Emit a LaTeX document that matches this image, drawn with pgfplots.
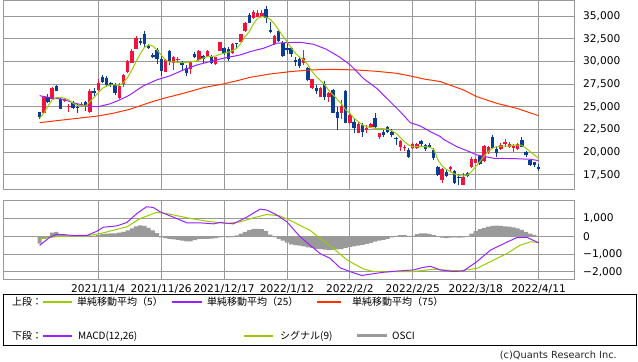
\documentclass[border=0pt]{standalone}
\usepackage{fontspec}
\setmainfont{DejaVu Sans}
\newfontfamily\jp{Noto Sans CJK JP}
\usepackage{pgfplots}
\pgfplotsset{compat=1.18}
\usepackage{pgfplotstable}
\definecolor{upc}{HTML}{F0143C}
\definecolor{dnc}{HTML}{0A3C96}
\definecolor{ma5}{HTML}{99CC00}
\definecolor{ma25}{HTML}{9922FF}
\definecolor{ma75}{HTML}{FF3300}
\definecolor{gridc}{HTML}{999999}
\definecolor{oscic}{HTML}{9A9A9A}

% up (red) candles: index open high low close
\pgfplotstableread{
i o h l c
1 24360 26230 24300 26120
3 25870 27150 25800 27040
6 25650 26010 25570 25870
7 24950 25320 24470 25130
10 25130 25570 25020 25350
12 24440 26930 24360 26790
14 26860 28110 26780 27670
19 25980 27590 25900 27300
20 27520 28580 27230 28470
21 28840 30160 28770 30020
22 29870 31390 29800 31170
23 31410 32840 31340 32580
30 28880 30310 28840 30160
32 29790 30600 29060 30530
33 30160 30450 29980 30310
36 29130 30050 28620 29940
38 30160 31300 30090 31190
40 30530 31300 30460 31120
42 29680 30530 29610 30460
43 31190 32180 31120 32110
46 30900 32000 30830 31920
48 32180 33060 32110 32990
49 33350 34380 33280 34270
51 34750 35670 34680 35480
52 34930 35670 34860 35300
53 34930 35670 34860 35370
56 31920 32900 31850 32800
63 29790 31300 29610 30350
65 27040 28110 26970 28030
67 26120 27190 26050 27120
69 26120 26680 25570 26570
72 24290 25760 23630 25100
74 23190 24360 23110 24110
76 22160 23330 22090 23120
78 22450 23010 22160 22640
79 22820 23260 22640 23120
81 21650 22160 21430 22090
86 20620 21320 20180 21240
87 20440 20770 20180 20620
89 20440 20990 20360 20910
90 20440 20990 20360 20910
96 16950 18240 16580 18120
98 18120 18530 17870 18420
101 16400 17690 16400 17240
103 18420 19450 18240 19230
104 18860 19370 18790 19300
106 19080 20770 18900 20690
107 20070 20700 19800 20620
110 20330 21060 20250 20770
111 20910 21430 20620 21170
112 20620 21170 20440 20910
113 20440 20910 20070 20690
114 20330 20990 20250 20910
}\candup

% down (blue) candles: index open high low close
\pgfplotstableread{
i o h l c
0 24400 24450 23630 23850
2 26120 26420 25390 25570
4 27300 27450 26700 26750
5 25870 26050 24750 24800
8 25460 25650 24800 24910
9 25020 25280 24360 24880
11 25540 25680 24580 25100
13 26790 27040 26200 26490
15 28330 28550 27590 27740
16 28180 28360 27230 27370
17 27590 27780 27150 27370
18 27370 27590 26350 26490
24 32220 32580 31800 32070
25 32990 33320 31630 31920
26 31700 31890 31410 31520
27 30710 30970 30350 30530
28 31260 31520 29720 30240
29 30240 30710 28400 28990
31 31190 31300 29610 29980
34 29870 30090 29000 29570
35 29320 29610 28400 28770
37 30820 31080 30350 30530
39 30600 30710 29870 30240
41 30600 30710 29720 29790
44 31450 31560 30710 30900
45 31340 31560 30090 30240
47 32070 32070 31450 31920
50 35120 35370 34200 34270
54 35740 36140 34270 34750
55 33470 34380 33100 33280
57 33350 33470 32110 32220
58 32070 32290 30530 30640
59 31450 31990 30820 31260
60 31450 31630 30460 30790
61 30160 30460 29500 29980
62 30240 30460 29240 29500
64 29240 29430 27890 27960
66 27040 27410 26380 26750
68 27480 27890 25760 26050
70 26860 26930 24290 24360
71 24470 24950 22470 23740
73 26790 26860 23190 23260
75 23370 23630 22090 22640
77 23010 23190 21720 22270
80 23740 24360 22640 22750
82 22270 22450 21720 21900
83 22820 22890 22090 22270
84 22270 22530 21650 21900
85 21610 21720 20800 21430
88 20250 20440 19340 19520
91 21240 21360 20730 20910
92 20800 20910 20180 20330
93 20800 20990 20540 20620
94 20250 20440 19150 19340
95 18420 18500 17430 17500
97 17870 18050 17240 17390
99 17940 18050 16470 16660
100 17320 17620 16400 17130
102 17760 17830 17240 17390
105 19590 19670 18640 18710
108 21720 21940 20360 20440
109 20330 20620 19520 19960
115 21350 21650 20540 20620
116 20070 20180 19520 19700
117 19150 19230 18530 18600
118 18930 18930 18350 18640
119 18420 18680 17980 18120
}\canddn

% OSCI histogram
\pgfplotstableread{
i v
0 -415
1 -150
2 -80
3 200
4 245
5 100
6 60
7 30
8 20
9 10
10 5
11 10
12 20
13 20
14 60
15 120
16 150
17 170
18 170
19 200
20 250
21 330
22 450
23 560
24 620
25 580
26 470
27 330
28 180
29 -60
30 -100
31 -140
32 -170
33 -200
34 -250
35 -290
36 -280
37 -220
38 -160
39 -150
40 -150
41 -130
42 -100
43 -60
44 0
45 -60
46 -50
47 50
48 150
49 250
50 350
51 420
52 420
53 400
54 300
55 100
56 -50
57 -150
58 -250
59 -350
60 -450
61 -500
62 -520
63 -560
64 -620
65 -650
66 -700
67 -720
68 -750
69 -770
70 -760
71 -740
72 -720
73 -650
74 -600
75 -560
76 -520
77 -480
78 -430
79 -370
80 -300
81 -250
82 -200
83 -140
84 -60
85 20
86 60
87 60
88 0
89 30
90 120
91 160
92 160
93 140
94 70
95 0
96 -80
97 -100
98 -80
99 -60
100 -80
101 -60
102 0
103 150
104 300
105 400
106 480
107 540
108 580
109 600
110 580
111 560
112 540
113 500
114 450
115 360
116 250
117 150
118 80
119 -30
}\osci

\pgfplotsset{
  panel/.style={
    scale only axis, width=571bp,
    xmin=-8.66, xmax=127.52,
    xtick={14,29,44,59,74,89,104,119},
    scaled x ticks=false, scaled y ticks=false,
    grid=major,
    major grid style={draw=gridc, line width=1bp},
    axis line style={draw=gridc, line width=1bp},
    major tick length=0pt,
    yticklabel pos=right,
    yticklabel style={anchor=west, inner sep=0pt, xshift=8.7bp,
      font=\fontsize{10.6bp}{12bp}\selectfont, text=black},
  },
  wick/.style={draw=none, mark=none, forget plot,
    error bars/.cd, y dir=plus, y explicit, error mark=none,
    error bar style={draw=#1, line width=1bp, line cap=butt}},
  body/.style={draw=none, mark=none, forget plot,
    error bars/.cd, y dir=plus, y explicit, error mark=none,
    error bar style={draw=#1, line width=3.4bp, line cap=butt}},
}

\begin{document}
\begin{tikzpicture}
\useasboundingbox (0,0) rectangle (638bp,362bp);

% ---------------- upper panel ----------------
\begin{axis}[panel,
  at={(3.3bp,172bp)}, anchor=south west, height=189bp,
  ymin=15848, ymax=36652,
  ytick={17500,20000,22500,25000,27500,30000,32500,35000},
  yticklabels={{17,500},{20,000},{22,500},{25,000},{27,500},{30,000},{32,500},{35,000}},
  xticklabel=\empty,
]
\addplot[wick=upc] table[x=i, y=l, y error plus expr=\thisrow{h}-\thisrow{l}] {\candup};
\addplot[wick=dnc] table[x=i, y=l, y error plus expr=\thisrow{h}-\thisrow{l}] {\canddn};
\addplot[body=upc] table[x=i, y=o, y error plus expr=\thisrow{c}-\thisrow{o}] {\candup};
\addplot[body=dnc] table[x=i, y=c, y error plus expr=\thisrow{o}-\thisrow{c}] {\canddn};

% MA75
\addplot[draw=ma75, line width=1bp, mark=none] coordinates {
(0,23260) (5.6,23560) (14,24000) (17.5,24290) (21.5,24730) (26.4,25500)
(29.6,25940) (34.3,26490) (39.1,27120) (43.8,27520) (47.8,27960) (50.2,28250)
(55,28620) (59.8,28880) (64.6,29060) (69.4,29130) (75.6,29060) (80.4,28910)
(85.2,28690) (88.4,28400) (91.6,28070) (95.6,27780) (97.1,27520) (101.1,26860)
(104.3,26120) (109,25390) (113.8,24840) (119,24030)};
% MA25
\addplot[draw=ma25, line width=1bp, mark=none] coordinates {
(0,26230) (2.5,26010) (5.6,25830) (8,25460) (11.1,25100) (14,25020)
(16.7,25320) (19.1,25760) (21.5,26310) (24.7,27300) (27.9,27960) (31,28400)
(34.3,29060) (37.5,29610) (40.6,29980) (43.8,30350) (47.8,30710) (50.2,31080)
(53.4,31450) (56.5,32000) (58.9,32070) (62.1,32110) (65.3,31890) (68.4,31340)
(71.6,30460) (74,29650) (77.2,28140) (80.4,27040) (83.6,25570) (86,24470)
(88.4,23260) (90.8,22890) (93.2,22270) (95.6,21720) (96.3,21430) (99.5,20620)
(101.9,20180) (104.3,19700) (108.3,19340) (113.1,19300) (117.1,19230) (119,19080)};
% MA5
\addplot[draw=ma5, line width=1bp, mark=none] coordinates {
(0,23740) (1,24290) (2,25100) (3,25760) (4,26010) (5,26050) (6,25940) (7,25760)
(8,25390) (9,25170) (10,25130) (11,25100) (12,25570) (13,26050) (14,26560)
(15,27040) (16,27300) (17,27410) (18,27410) (19,27370) (20,27670) (21,28250)
(22,29060) (23,29980) (24,30820) (25,31560) (26,31810) (27,31700) (28,31260)
(29,30710) (30,30160) (31,29940) (32,29940) (33,29900) (34,29870) (35,29870)
(36,29940) (37,30010) (38,30160) (39,30350) (40,30530) (41,30530) (42,30600)
(43,30790) (44,30900) (45,31010) (46,31190) (47,31450) (48,32000) (49,32730)
(50,33280) (51,34130) (52,34750) (53,34930) (54,34860) (55,34640) (56,34130)
(57,33460) (58,32800) (59,32180) (60,31520) (61,30900) (62,30460) (63,30160)
(64,29610) (65,28880) (66,28330) (67,27890) (68,27410) (69,26790) (70,26310)
(71,25830) (72,25320) (73,24660) (74,24290) (75,23740) (76,23370) (77,23010)
(78,22820) (79,22710) (80,22640) (81,22600) (82,22600) (83,22530) (84,22380)
(85,22090) (86,21650) (87,21170) (88,20800) (89,20620) (90,20620) (91,20620)
(92,20620) (93,20550) (94,20330) (95,19150) (96,18490) (97,18120) (98,17870)
(99,17610) (100,17430) (101,17390) (102,17500) (103,17870) (104,18420)
(105,18970) (106,19590) (107,20070) (108,20440) (109,20620) (110,20690)
(111,20690) (112,20690) (113,20770) (114,20800) (115,20770) (116,20440)
(117,20070) (118,19700) (119,19340)};
\end{axis}

% ---------------- lower panel ----------------
\begin{axis}[panel,
  at={(3.3bp,82bp)}, anchor=south west, height=79bp,
  ymin=-2455, ymax=1983,
  ytick={-2000,-1000,0,1000},
  yticklabels={{−2,000},{−1,000},0,{1,000}},
  xticklabels={2021/11/4,2021/11/26,2021/12/17,2022/1/12,2022/2/2,2022/2/25,2022/3/18,2022/4/11},
  xticklabel style={anchor=north, inner sep=0pt, yshift=-4bp,
    font=\fontsize{10.6bp}{12bp}\selectfont, text=black},
]
\addplot[ybar, bar width=1, bar shift=0pt, fill=oscic, draw=none, forget plot] table[x=i, y=v] {\osci};
% signal
\addplot[draw=ma5, line width=1bp, mark=none] coordinates {
(0,-130) (3.3,-40) (6.5,20) (11.2,20) (14.4,150) (17.6,340) (20.8,530)
(24,1000) (27.9,1340) (30.3,1280) (35.1,1040) (39.8,850) (44.6,720)
(47.8,810) (51,1040) (54.2,1225) (57.3,1150) (60.5,810) (62.1,610)
(64.5,340) (66.9,-130) (70.1,-685) (73.3,-1330) (77.2,-1830) (79.6,-1980)
(89.2,-1980) (93.9,-1850) (97.1,-1905) (100.3,-1940) (104.3,-1800)
(107.5,-1425) (111.5,-960) (114.6,-500) (117,-315) (119,-335)};
% MACD
\addplot[draw=ma25, line width=1bp, mark=none] coordinates {
(0,-510) (2.5,-40) (4.1,110) (5.7,95) (8.4,40) (11.4,57) (13.6,280)
(15.2,510) (18.4,585) (20.8,775) (23.2,1280) (25.5,1660) (27.1,1620)
(28.7,1380) (30.3,1225) (32.7,1000) (35.1,755) (38.3,755) (41.5,700)
(43,775) (46.2,700) (49.4,1075) (52.6,1530) (54.2,1470) (56.6,1190)
(59,810) (62.1,-20) (64.5,-500) (66.9,-970) (69.3,-1240) (71.6,-1760)
(74,-1980) (76.8,-2200) (78.8,-2130) (82,-2020) (86,-1940) (89.2,-1890)
(91.2,-1760) (93.2,-1685) (95.6,-1890) (98.7,-1980) (101.1,-1940)
(104.3,-1425) (107.5,-780) (110.7,-410) (113.8,-75) (116.2,-55) (119,-370)};
\end{axis}

% ---------------- legend ----------------
\draw[draw=black, line width=1bp] (3.3bp,16bp) rectangle (636.5bp,67bp);
\begin{scope}[every node/.style={anchor=west, inner sep=0pt,
    font=\jp\fontsize{10bp}{12bp}\selectfont, text=black}]
\node at (12bp,60bp) {上段：};
\draw[draw=ma5, line width=1.2bp] (43bp,60bp) -- (72bp,60bp);
\node at (77bp,60bp) {単純移動平均（5）};
\draw[draw=ma25, line width=1.2bp] (172bp,60bp) -- (202bp,60bp);
\node at (207bp,60bp) {単純移動平均（25）};
\draw[draw=ma75, line width=1.2bp] (317bp,60bp) -- (341bp,60bp);
\node at (352bp,60bp) {単純移動平均（75）};
\node at (12bp,26bp) {下段：};
\draw[draw=ma25, line width=1.2bp] (43bp,26bp) -- (72bp,26bp);
\node at (78bp,26bp) {MACD(12,26)};
\draw[draw=ma5, line width=1.2bp] (244bp,26bp) -- (273bp,26bp);
\node at (280bp,26bp) {シグナル(9)};
\draw[draw=oscic, line width=3bp] (357bp,26bp) -- (387bp,26bp);
\node at (392bp,26bp) {OSCI};
\end{scope}
\node[anchor=east, inner sep=0pt, font=\fontsize{9.8bp}{11bp}\selectfont, text=black!85]
  at (617bp,7bp) {(c)Quants Research Inc.};
\end{tikzpicture}
\end{document}
